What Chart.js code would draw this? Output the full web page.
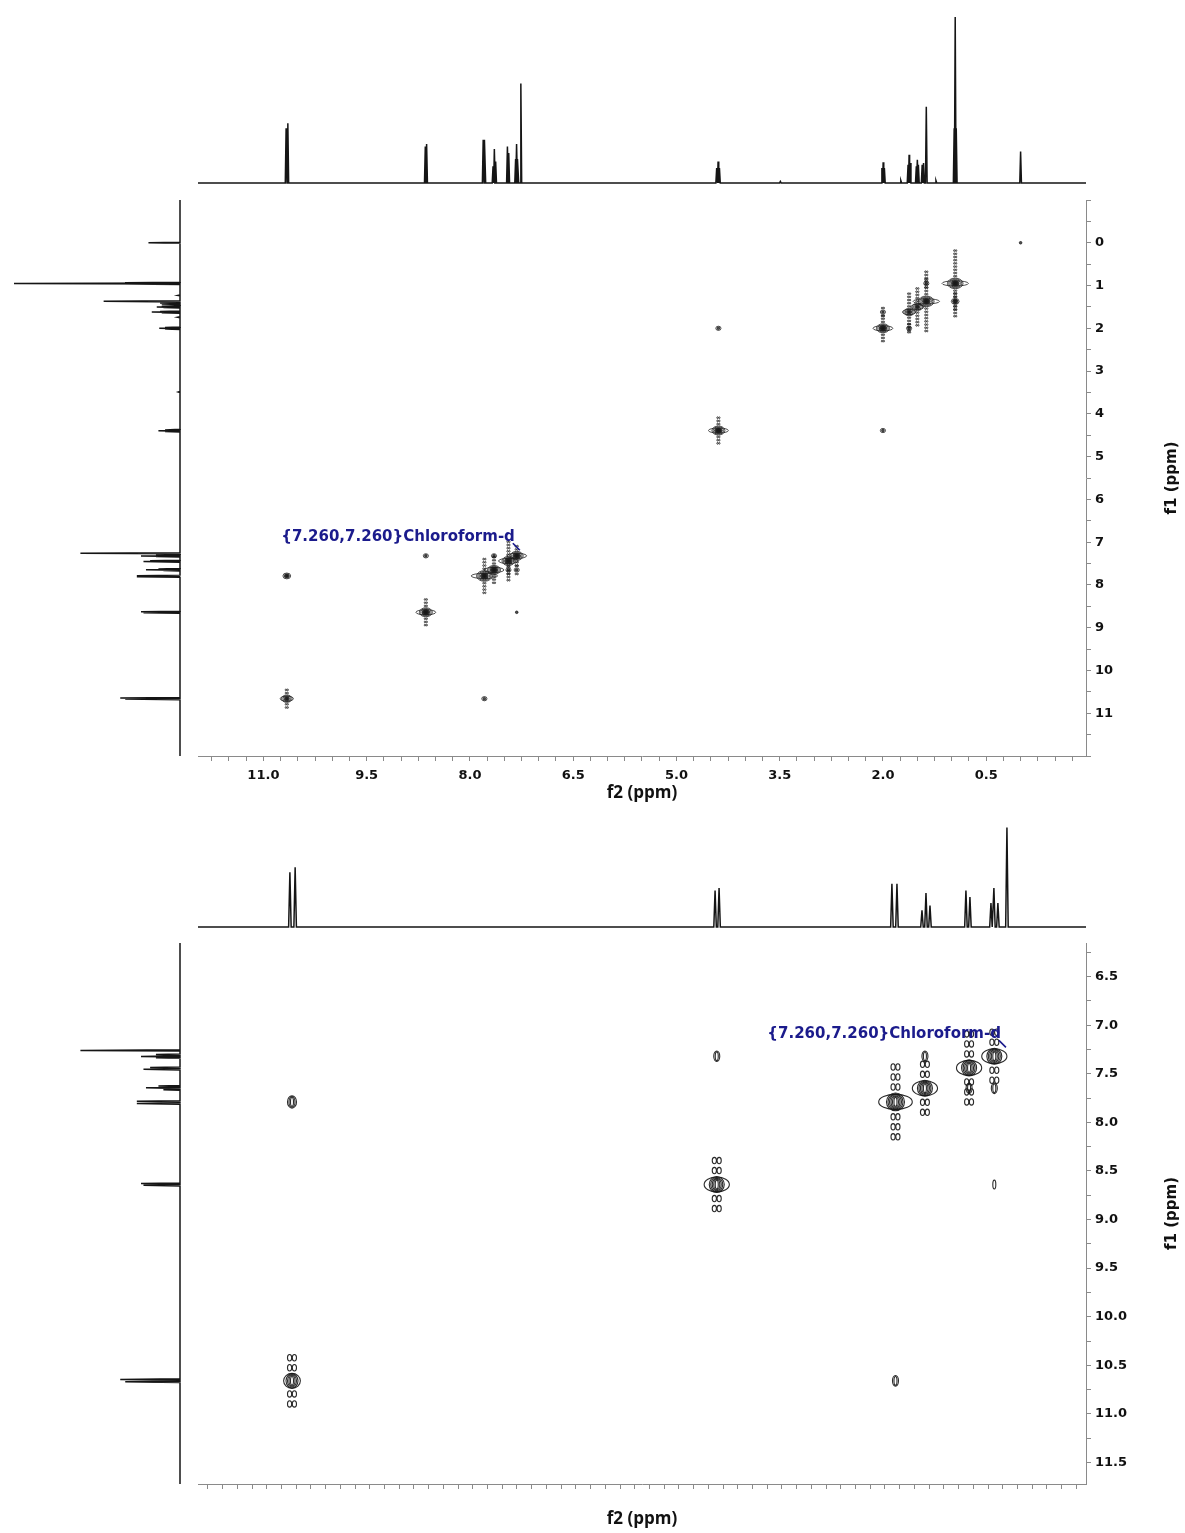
<!DOCTYPE html>
<html>
<head>
<meta charset="utf-8">
<script src="https://cdn.jsdelivr.net/npm/chart.js@4.4.1/dist/chart.umd.min.js"></script>
<style>
  body { margin: 0; background: #fff; }
  #page { position: relative; width: 1185px; height: 1533px; overflow: hidden; }
  .box { position: absolute; }
</style>
</head>
<body>
<div id="page">
  <div class="box" style="left:198px;top:8px;width:888px;height:180px"><canvas id="topProj1"></canvas></div>
  <div class="box" style="left:0px;top:200px;width:190px;height:556px"><canvas id="leftProj1"></canvas></div>
  <div class="box" style="left:190px;top:195px;width:995px;height:625px"><canvas id="cosy1"></canvas></div>

  <div class="box" style="left:198px;top:820px;width:888px;height:112px"><canvas id="topProj2"></canvas></div>
  <div class="box" style="left:0px;top:943px;width:190px;height:541px"><canvas id="leftProj2"></canvas></div>
  <div class="box" style="left:190px;top:938px;width:995px;height:595px"><canvas id="cosy2"></canvas></div>
</div>
<script>
// 1H peak list (ppm, relative intensity, tallest = 100)
const peakPpm = [10.670, 10.645, 8.648, 8.629, 7.807, 7.783, 7.664, 7.645, 7.626, 7.455, 7.436,
                 7.336, 7.322, 7.303, 7.260, 4.415, 4.395, 4.375, 3.49, 2.015, 1.997, 1.979, 1.74,
                 1.635, 1.620, 1.605, 1.515, 1.500, 1.485, 1.430, 1.410, 1.370, 1.23,
                 0.965, 0.950, 0.935, 0.000];
const peakInt = [33, 36, 22, 23.5, 26, 26, 10, 20.5, 13, 22, 18,
                 14.5, 23.5, 14.5, 60, 9, 13, 9, 1, 9, 12.5, 9, 1.5,
                 11, 17, 12, 10, 14, 11, 11, 12, 46, 1.5,
                 33, 100, 33, 19];

// COSY cross peaks: f2, f1 (ppm), contour level count, t1 streak reach (ppm)
const crossF2 = [10.66, 10.66, 8.64, 8.64, 7.79, 7.79, 7.65, 7.44, 7.32, 7.32, 7.65, 7.44, 7.32,
                 4.39, 4.39, 2.00, 2.00, 1.62, 1.50, 1.37, 1.62, 2.00, 1.37, 0.95, 0.95, 0.00];
const crossF1 = [10.66, 7.79, 8.64, 7.32, 7.79, 10.66, 7.65, 7.44, 7.32, 8.64, 7.32, 7.65, 7.65,
                 4.39, 2.00, 2.00, 4.39, 1.62, 1.50, 1.37, 2.00, 1.62, 0.95, 1.37, 0.95, 0.00];
const crossLevel = [4, 3, 5, 2, 6, 2, 5, 5, 5, 1, 2, 2, 2,
                    5, 2, 5, 2, 4, 4, 6, 2, 2, 2, 3, 6, 1];
const crossSpread = [0.28, 0.10, 0.33, 0.05, 0.42, 0.05, 0.32, 0.45, 0.25, 0, 0.05, 0.10, 0.10,
                     0.35, 0.05, 0.30, 0.05, 0.50, 0.50, 0.70, 0.10, 0.10, 0.10, 0.20, 0.80, 0];

// axis tick labels
const f2Labels1 = [11.0, 9.5, 8.0, 6.5, 5.0, 3.5, 2.0, 0.5];
const f1Labels1 = [0, 1, 2, 3, 4, 5, 6, 7, 8, 9, 10, 11];
const f1Labels2 = [6.5, 7.0, 7.5, 8.0, 8.5, 9.0, 9.5, 10.0, 10.5, 11.0, 11.5];

const solvent = { f2: 7.26, f1: 7.26, text: '{7.260,7.260}Chloroform-d' };

Chart.defaults.font.family = "'DejaVu Sans', sans-serif";
Chart.defaults.animation = false;

const INK = '#151515';
const AXIS = '#8a8a8a';
const PX_PER_UNIT = 1.66;

function spectrum(half, vertical) {
  const order = peakPpm.map((p, i) => i).sort((a, b) => peakPpm[b] - peakPpm[a]);
  const pts = [[13, 0]];
  order.forEach(i => {
    pts.push([peakPpm[i] + half, 0], [peakPpm[i], peakInt[i]], [peakPpm[i] - half, 0]);
  });
  pts.push([-2, 0]);
  return pts.map(([p, h]) => vertical ? { x: h, y: p } : { x: p, y: h });
}

function labelFor(list, v, digits) {
  const t = list.find(t => Math.abs(t - v) < 1e-6);
  return t === undefined ? '' : t.toFixed(digits);
}

const quiet = { legend: { display: false }, tooltip: { enabled: false } };

function topProjection(id, f2min, f2max, half, height, baseline) {
  new Chart(document.getElementById(id), {
    type: 'scatter',
    data: { datasets: [{ data: spectrum(half, false), showLine: true, borderColor: INK,
                         borderWidth: 1.5, pointRadius: 0 }] },
    options: {
      responsive: true, maintainAspectRatio: false,
      plugins: quiet,
      scales: {
        x: { type: 'linear', min: f2min, max: f2max, reverse: true, display: false },
        y: { min: -(height - baseline) / PX_PER_UNIT, max: baseline / PX_PER_UNIT, display: false }
      }
    }
  });
}

function leftProjection(id, f1min, f1max, half) {
  new Chart(document.getElementById(id), {
    type: 'scatter',
    data: { datasets: [{ data: spectrum(half, true), showLine: true, borderColor: INK,
                         borderWidth: 1.5, pointRadius: 0 }] },
    options: {
      responsive: true, maintainAspectRatio: false,
      plugins: quiet,
      scales: {
        x: { type: 'linear', min: -10 / PX_PER_UNIT, max: 180 / PX_PER_UNIT, reverse: true, display: false },
        y: { min: f1min, max: f1max, reverse: true, display: false }
      }
    }
  });
}

function ellipse(ctx, x, y, rx, ry, fill) {
  ctx.beginPath();
  ctx.ellipse(x, y, rx, ry, 0, 0, Math.PI * 2);
  if (fill) ctx.fill();
  ctx.stroke();
}

const contours = {
  id: 'contours',
  afterDatasetsDraw(chart, args, o) {
    const ctx = chart.ctx, a = chart.chartArea, sy = chart.scales.y;
    const raw = chart.data.datasets[0].data;
    ctx.save();
    ctx.beginPath();
    ctx.rect(a.left, a.top, a.right - a.left, a.bottom - a.top);
    ctx.clip();
    ctx.strokeStyle = o.color;
    ctx.fillStyle = o.fill;
    ctx.lineWidth = o.lineWidth;
    chart.getDatasetMeta(0).data.forEach((el, i) => {
      const d = raw[i];
      const x = el.x, y = el.y;
      const reach = Math.abs(sy.getPixelForValue(d.y + d.spread) - y);
      const inner = o.ry0 + d.level * o.ry;
      for (let s = inner + o.gap * 0.6; s <= reach; s += o.gap) {
        [y - s, y + s].forEach(yy => {
          ellipse(ctx, x - o.pairDx, yy, o.dotRx, o.dotRy);
          ellipse(ctx, x + o.pairDx, yy, o.dotRx, o.dotRy);
        });
      }
      if (d.level >= 4) {
        ellipse(ctx, x, y, o.wingRx * (d.level - 2), o.wingRy);
      }
      for (let k = d.level; k >= 1; k--) {
        ellipse(ctx, x, y, k * o.rx, o.ry0 + k * o.ry, o.fill && k <= Math.ceil(d.level / 2));
      }
    });
    ctx.restore();
  }
};

const labels = {
  id: 'labels',
  afterDraw(chart, args, o) {
    const ctx = chart.ctx, a = chart.chartArea;
    const px = chart.scales.x.getPixelForValue(solvent.f2);
    const py = chart.scales.y.getPixelForValue(solvent.f1);
    ctx.save();
    ctx.fillStyle = '#1b1b8c';
    ctx.strokeStyle = '#1b1b8c';
    ctx.font = "bold 15px 'DejaVu Sans'";
    ctx.textAlign = 'right';
    ctx.textBaseline = 'middle';
    ctx.fillText(solvent.text, px - 6, py - 16);
    ctx.lineWidth = 1.6;
    ctx.beginPath();
    ctx.moveTo(px - 8, py - 10);
    ctx.lineTo(px - 1, py - 3);
    ctx.stroke();
    // f1 title, reading upwards
    ctx.fillStyle = '#111';
    ctx.font = "bold 15px 'DejaVu Sans'";
    ctx.textAlign = 'center';
    ctx.translate(o.titleX, (a.top + a.bottom) / 2);
    ctx.rotate(-Math.PI / 2);
    ctx.fillText('f1 (ppm)', 0, 0);
    ctx.restore();
  }
};

function cosy(id, x, y, axisH, titlePad, style, xLabel, yLabel, xStep, yStep, yDigits) {
  const pts = crossF2.map((f2, i) => ({ x: f2, y: crossF1[i], level: crossLevel[i], spread: crossSpread[i] }));
  new Chart(document.getElementById(id), {
    type: 'scatter',
    data: { datasets: [{ data: pts, pointRadius: 0 }] },
    plugins: [contours, labels],
    options: {
      responsive: true, maintainAspectRatio: false,
      layout: { padding: { left: 8, top: 5, right: 0, bottom: 0 } },
      plugins: Object.assign({ contours: style, labels: { titleX: 982 } }, quiet),
      scales: {
        x: {
          type: 'linear', position: 'bottom', min: x[0], max: x[1], reverse: true,
          afterFit: s => { s.height = axisH; s.paddingLeft = 0; s.paddingRight = 0; },
          border: { display: true, color: AXIS, width: 1 },
          grid: { drawOnChartArea: false, drawTicks: true, tickLength: 5, color: AXIS },
          ticks: { stepSize: xStep, includeBounds: false, autoSkip: false, maxRotation: 0,
                   padding: 7, color: '#111', font: { size: 13, weight: 'bold' },
                   callback: v => labelFor(xLabel, v, 1) },
          title: { display: true, text: 'f2 (ppm)', color: '#111',
                   font: { family: "'Open Sans', sans-serif", size: 17, weight: 'bold' },
                   padding: { top: 0, bottom: titlePad } }
        },
        y: {
          type: 'linear', position: 'right', min: y[0], max: y[1], reverse: true,
          afterFit: s => { s.width = 99; s.paddingTop = 0; s.paddingBottom = 0; },
          border: { display: true, color: AXIS, width: 1 },
          grid: { drawOnChartArea: false, drawTicks: true, tickLength: 5, color: AXIS },
          ticks: { stepSize: yStep, includeBounds: false, autoSkip: false, padding: 4,
                   color: '#111', font: { size: 13, weight: 'bold' },
                   callback: v => labelFor(yLabel, v, yDigits) }
        }
      }
    }
  });
}

// upper spectrum (full range)
topProjection('topProj1', -0.95, 11.95, 0.012, 180, 175);
leftProjection('leftProj1', -1.0, 12.0, 0.012);
cosy('cosy1', [-0.95, 11.95], [-1.0, 12.0], 64, 16.5, {
  color: 'rgba(25,25,25,0.85)', fill: 'rgba(20,20,20,0.75)', lineWidth: 0.9,
  rx: 1.3, ry: 0.8, ry0: 0.5, wingRx: 3.3, wingRy: 2.6,
  gap: 3.2, dotRx: 0.7, dotRy: 0.9, pairDx: 0.9
}, f2Labels1, f1Labels1, 0.25, 0.5, 0);

// lower spectrum (aromatic expansion)
topProjection('topProj2', 6.884, 11.107, 0.006, 112, 107);
leftProjection('leftProj2', 6.155, 11.721, 0.006);
cosy('cosy2', [6.884, 11.107], [6.155, 11.721], 49, 3.5, {
  color: 'rgba(20,20,20,0.9)', fill: null, lineWidth: 1.1,
  rx: 1.5, ry: 0.9, ry0: 3.5, wingRx: 4.2, wingRy: 7.5,
  gap: 10, dotRx: 2.1, dotRy: 3.2, pairDx: 2.4
}, [], f1Labels2, 0.07, 0.25, 1);
</script>
</body>
</html>
